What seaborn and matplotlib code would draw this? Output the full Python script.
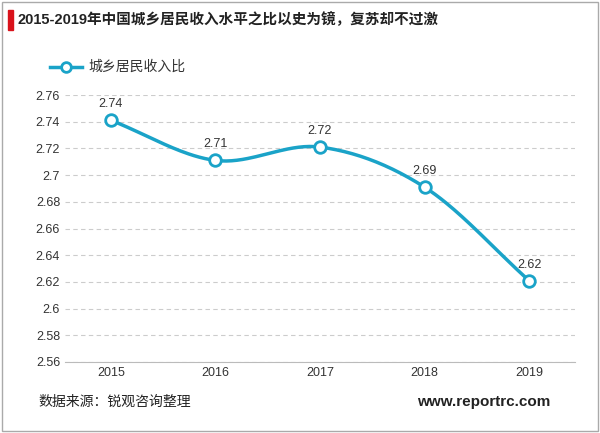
import numpy as np
import pandas as pd
import matplotlib
matplotlib.use("Agg")
import matplotlib.pyplot as plt
import seaborn as sns
from matplotlib.patches import Rectangle

plt.rcParams["font.family"] = ["Liberation Sans", "Noto Sans CJK SC", "DejaVu Sans"]

years = ["2015", "2016", "2017", "2018", "2019"]
ratio = [2.741, 2.711, 2.721, 2.691, 2.621]
labels = ["2.74", "2.71", "2.72", "2.69", "2.62"]
yticks = [2.56, 2.58, 2.6, 2.62, 2.64, 2.66, 2.68, 2.7, 2.72, 2.74, 2.76]
ytick_labels = ["2.56", "2.58", "2.6", "2.62", "2.64", "2.66", "2.68", "2.7", "2.72", "2.74", "2.76"]

color = "#1AA3C8"
W, H = 600, 433
fig = plt.figure(figsize=(6, 4.33), dpi=100)
ax = fig.add_axes([65 / W, 1 - 362 / H, 510 / W, 267 / H])

x = np.arange(len(years), dtype=float)
y = np.array(ratio)
px = np.concatenate([[x[0] - (x[1] - x[0])], x, [x[-1] + (x[-1] - x[-2])]])
py = np.concatenate([[y[0] - (y[1] - y[0])], y, [y[-1] + (y[-1] - y[-2])]])
xs, ys = [], []
t = np.linspace(0, 1, 40)
for i in range(1, len(px) - 2):
    for P, out in ((px, xs), (py, ys)):
        p0, p1, p2, p3 = P[i - 1], P[i], P[i + 1], P[i + 2]
        out.extend(0.5 * (2 * p1 + (-p0 + p2) * t + (2 * p0 - 5 * p1 + 4 * p2 - p3) * t**2
                          + (-p0 + 3 * p1 - 3 * p2 + p3) * t**3))
sns.lineplot(x=xs, y=ys, ax=ax, color=color, lw=2.5, sort=False)
sns.scatterplot(x=x, y=y, ax=ax, s=70, facecolor="white", edgecolor=color, linewidth=2, zorder=5)
for xi, yi, lab in zip(x, y, labels):
    ax.text(xi, yi + 0.0075, lab, ha="center", va="bottom", fontsize=9, color="#333333")

ax.set_xlim(-0.44, 4.44)
ax.set_ylim(2.56, 2.76)
ax.set_xticks(x)
ax.set_xticklabels(years, fontsize=9)
ax.set_yticks(yticks)
ax.set_yticklabels(ytick_labels, fontsize=9)
ax.grid(axis="y", ls=(0, (4, 3)), color="#CCCCCC", lw=0.8)
ax.set_axisbelow(True)
for s in ["top", "right", "left"]:
    ax.spines[s].set_visible(False)
ax.spines["bottom"].set_color("#BBBBBB")
ax.tick_params(length=0, colors="#333333")

fig.patches.append(Rectangle((2 / W, 2 / H), 1 - 4 / W, 1 - 4 / H, transform=fig.transFigure,
                             fill=False, edgecolor="#AAAAAA", lw=1))
fig.patches.append(Rectangle((8 / W, 1 - 30 / H), 5 / W, 20 / H, transform=fig.transFigure,
                             color="#D9121B"))
fig.text(18 / W, 1 - 20 / H, "2015-2019年中国城乡居民收入水平之比以史为镜，复苏却不过激",
         fontsize=10.5, fontweight="bold", va="center", color="#222222")
fig.lines.append(plt.Line2D([50 / W, 82 / W], [1 - 67 / H] * 2, transform=fig.transFigure,
                            color=color, lw=2.5))
fig.lines.append(plt.Line2D([66 / W], [1 - 67 / H], transform=fig.transFigure, marker="o",
                            markersize=7, markerfacecolor="white", markeredgecolor=color, mew=2))
fig.text(88 / W, 1 - 67 / H, "城乡居民收入比", fontsize=10, va="center", color="#333333")
fig.text(38 / W, 1 - 402 / H, "数据来源：锐观咨询整理", fontsize=10, va="center", color="#222222")
fig.text(550 / W, 1 - 402 / H, "www.reportrc.com", fontsize=11, fontweight="bold",
         ha="right", va="center", color="#222222")

fig.savefig("out.png", dpi=100)
